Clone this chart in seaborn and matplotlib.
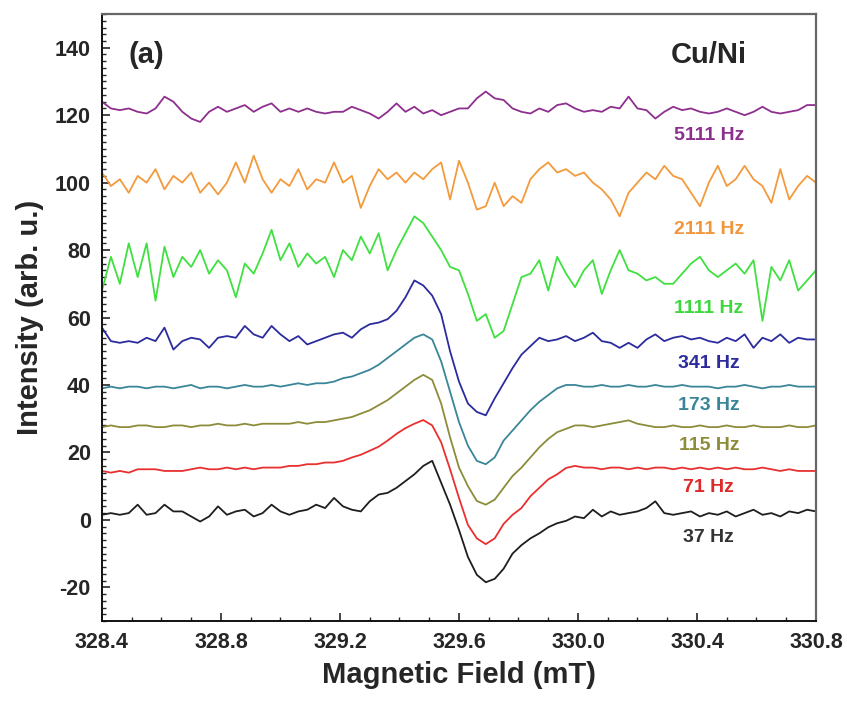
import numpy as np
import pandas as pd
import matplotlib
matplotlib.use("Agg")
import matplotlib.pyplot as plt
from matplotlib.ticker import MultipleLocator
import seaborn as sns

# ---------------- data ----------------
field = np.linspace(328.4, 330.8, 81)  # mT sampling grid

i_5111 = [124, 122, 121.5, 122, 121, 120.5, 122, 125.5, 124, 121,
          119, 118, 121, 122.5, 121, 122, 123, 121, 122.5, 123.5,
          121, 122, 121, 122, 121, 120.5, 121, 121, 122.5, 121.5,
          120.5, 119, 121, 123.5, 121, 122.5, 120.5, 121.5, 120, 121,
          122, 122, 125, 127, 125, 124.5, 122, 121, 120.5, 122,
          121, 123, 123.5, 122, 121, 121.5, 121, 122.5, 122, 125.5,
          122, 121.5, 119, 121, 122.5, 121.5, 122, 121, 120.5, 121,
          122, 121, 120, 121, 122.5, 121, 120.5, 121, 121.5, 123,
          123]

i_2111 = [103, 99, 101, 97, 102, 100, 104, 98, 102, 100,
          103, 97, 100, 96.5, 100, 106, 100, 108, 101, 97,
          101, 99, 104, 98, 101, 100, 106, 100, 102, 92.5,
          99, 104, 101, 103, 100, 103, 101, 104, 106, 95,
          106.5, 100, 92, 93, 100, 93, 96, 94, 101, 104,
          106, 103, 104, 102, 103, 100, 98, 95, 90, 97,
          100, 103, 101, 105, 102, 101, 97, 93, 100, 105,
          99, 101, 105, 101, 99, 94, 104, 95, 99, 102,
          100]

i_1111 = [68, 78, 70, 82, 72, 82, 65, 81, 72, 78,
          75, 80, 73, 77, 74, 66, 76, 73, 79, 86,
          77, 82, 75, 79, 76, 78, 72, 80, 77, 84,
          79, 85, 74, 80, 85, 90, 88, 84, 80, 75,
          74, 67, 59, 61, 54, 56, 64, 72, 73, 77,
          68, 78, 73, 69, 74, 77, 67, 74, 80, 74,
          73, 71, 72, 70, 70, 73, 76, 78, 74, 72,
          74, 76, 73, 77, 59, 75, 71, 77, 68, 71,
          74]

i_341 = [57, 53, 52.5, 53, 52.5, 54, 53, 57, 50.5, 53,
         54, 53.5, 51, 54, 54.5, 54, 57.5, 55, 54, 57.5,
         55, 53, 54.5, 52, 53, 54, 55, 55.5, 54, 56.5,
         58, 58.5, 59.5, 62, 66, 71, 69.5, 66.5, 61, 50,
         41, 34.5, 32, 31, 36, 40.5, 45, 49, 51.5, 54,
         53, 53.5, 54.5, 53, 54, 55.5, 53, 52.5, 51, 52.5,
         51, 53.5, 55, 53, 54, 54.5, 53.5, 54, 53, 52.5,
         54, 53, 55, 51, 54, 53, 55, 52.5, 54, 53.5,
         53.5]

i_173 = [39, 39.5, 39, 39.5, 39.5, 39, 39.5, 39.5, 39, 39.5,
         40, 39, 39.5, 39.5, 39, 39.5, 40, 39.5, 39.5, 40,
         39.5, 40, 40.5, 40, 40.5, 40.5, 41, 42, 42.5, 43.5,
         44.5, 46, 48, 50, 52, 54, 55, 53.5, 47, 38,
         29, 22, 17.5, 16.5, 18.5, 23.5, 26.5, 29.5, 32.5, 35,
         37, 39, 40, 40, 39.5, 39.5, 40, 39.5, 39.5, 40,
         39.5, 39.5, 40, 39.5, 39.5, 40, 39.5, 39.5, 39.5, 39,
         39.5, 39.5, 40, 39.5, 39, 39.5, 39.5, 40, 39.5, 39.5,
         39.5]

i_115 = [27.5, 28, 27.5, 27.5, 28, 28, 27.5, 27.5, 28, 28,
         27.5, 28, 28, 28.5, 28, 28, 28.5, 28, 28.5, 28.5,
         28.5, 28.5, 29, 28.5, 29, 29, 29.5, 30, 30.5, 31.5,
         32.5, 34, 35.5, 37.5, 39.5, 41.5, 43, 41.5, 34.5, 24.5,
         15.5, 10, 5.6, 4.5, 6, 9.5, 13, 15.5, 18.5, 21.5,
         24, 26, 27, 28, 28, 27.5, 28, 28.5, 29, 29.5,
         28.5, 28, 27.5, 27.5, 28, 27.5, 27.5, 28, 27.5, 27.5,
         28, 27.5, 27.5, 28, 27.5, 27.5, 27.5, 28, 27.5, 27.5,
         28]

i_71 = [14.5, 14, 14.5, 14, 15, 15, 15, 14.5, 14.5, 14.5,
        15, 15.5, 15, 15, 15.5, 15, 15.5, 15, 15.5, 15.5,
        15.5, 16, 16, 16.5, 16.5, 17, 17, 17.5, 18.5, 19.3,
        20.5, 21.7, 23.5, 25.5, 27.2, 28.5, 29.6, 28, 23, 15,
        6.5, -1.5, -5.5, -7.2, -5.5, -1.2, 1.5, 3.5, 7, 9.5,
        12, 13.5, 15.4, 16, 15.5, 15.5, 15, 15.5, 15.5, 15,
        15.5, 15, 15.5, 15.5, 15, 15.5, 15, 15.5, 15, 15.5,
        15, 15.5, 15, 15, 15.5, 15, 14.5, 15, 14.5, 14.5,
        14.5]

i_37 = [1.5, 2, 1.5, 2, 4.5, 1.5, 2, 4.5, 2.5, 2.5,
        1, -0.5, 1, 4, 1.5, 2.5, 3, 1, 2, 4.5,
        2.5, 1.5, 2.5, 3, 4.5, 3.5, 6.5, 4, 3, 2.5,
        5.5, 7.5, 8, 9.5, 11.5, 13.5, 16, 17.5, 11, 4.5,
        -3, -11, -16.3, -18.5, -17.5, -14.5, -10, -7.5, -5.5, -4,
        -2.2, -1, -0.3, 1, 0.5, 3, 1, 2.5, 1.5, 2,
        2.5, 3.5, 5.5, 2, 1.5, 2, 2.5, 1, 2, 1.5,
        2.5, 1, 2, 3, 1.5, 2, 1, 2.5, 2, 3,
        2.5]

labels = ["5111 Hz", "2111 Hz", "1111 Hz", "341 Hz", "173 Hz", "115 Hz", "71 Hz", "37 Hz"]
series = [i_5111, i_2111, i_1111, i_341, i_173, i_115, i_71, i_37]
label_y = [114, 86, 62.8, 46.5, 33.8, 21.9, 9.5, -5.3]

colors = ["#8E2F8E", "#F39A3C", "#3FE03F", "#2B2B9E", "#3A8698", "#8C8C3A", "#E8302F", "#1E1E1E"]
text_colors = ["#8E2F8E", "#F0963C", "#3CD83C", "#2B2B9E", "#3A8698", "#8C8C3A", "#E02828", "#333333"]

df = pd.concat([pd.DataFrame({"field": field, "intensity": s, "freq": lab})
                for s, lab in zip(series, labels)], ignore_index=True)

# ---------------- plot ----------------
sns.set_style("ticks")
plt.rcParams["font.family"] = ["Liberation Sans", "DejaVu Sans"]
plt.rcParams["font.weight"] = "bold"
plt.rcParams["axes.unicode_minus"] = False

fig = plt.figure(figsize=(8.47, 7.01), dpi=100)
ax = fig.add_axes([0.1204, 0.1141, 0.8430, 0.8659])

sns.lineplot(data=df, x="field", y="intensity", hue="freq", hue_order=labels,
             palette=colors, linewidth=1.3, legend=False, ax=ax, sort=False)

for lab, ly, c in zip(labels, label_y, text_colors):
    ax.text(330.44, ly, lab, color=c, fontsize=14, fontweight="bold",
            ha="center", va="center")

ax.text(328.55, 137.8, "(a)", fontsize=21, fontweight="bold", ha="center", va="center")
ax.text(330.44, 137.8, "Cu/Ni", fontsize=21, fontweight="bold", ha="center", va="center")

ax.set_xlim(328.4, 330.8)
ax.set_ylim(-30, 150)
ax.xaxis.set_major_locator(MultipleLocator(0.4))
ax.xaxis.set_minor_locator(MultipleLocator(0.1))
ax.yaxis.set_major_locator(MultipleLocator(20))
ax.yaxis.set_minor_locator(MultipleLocator(2))
ax.set_yticks([-20, 0, 20, 40, 60, 80, 100, 120, 140])
ax.set_yticklabels(["-20", "0", "20", "40", "60", "80", "100", "120", "140"])
ax.set_xticks([328.4, 328.8, 329.2, 329.6, 330.0, 330.4, 330.8])
ax.set_xticklabels(["328.4", "328.8", "329.2", "329.6", "330.0", "330.4", "330.8"])
ax.tick_params(axis="both", which="major", direction="in", length=6, width=1.2,
               labelsize=15.5, pad=8, top=False, right=False)
ax.tick_params(axis="both", which="minor", direction="in", length=3, width=1.0,
               top=False, right=False)
for t in ax.get_xticklabels() + ax.get_yticklabels():
    t.set_fontweight("bold")

for side in ["left", "bottom"]:
    ax.spines[side].set_color("#111111")
    ax.spines[side].set_linewidth(1.4)
for side in ["top", "right"]:
    ax.spines[side].set_visible(True)
    ax.spines[side].set_color("#666666")
    ax.spines[side].set_linewidth(1.6)

ax.set_xlabel("Magnetic Field (mT)", fontsize=21, fontweight="bold", labelpad=6)
ax.set_ylabel("Intensity (arb. u.)", fontsize=21, fontweight="bold", labelpad=8)

fig.savefig("out.png", dpi=100)
